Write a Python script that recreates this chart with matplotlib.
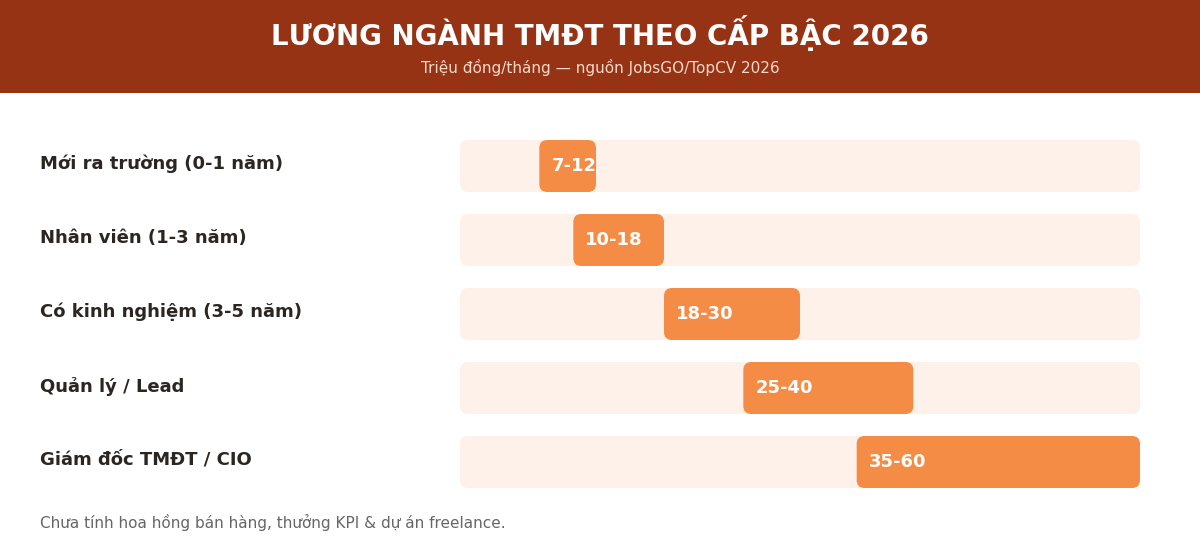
import matplotlib
matplotlib.use('Agg')
import matplotlib.pyplot as plt
from matplotlib.patches import FancyBboxPatch, Rectangle

levels = ['Mới ra trường (0-1 năm)', 'Nhân viên (1-3 năm)', 'Có kinh nghiệm (3-5 năm)',
          'Quản lý / Lead', 'Giám đốc TMĐT / CIO']
low = [7, 10, 18, 25, 35]
high = [12, 18, 30, 40, 60]
scale_max = 60

W, H = 1200, 560
fig = plt.figure(figsize=(12, 5.6), dpi=100, facecolor='white')

# header band
fig.patches.append(Rectangle((0, 1 - 93 / H), 1, 93 / H, transform=fig.transFigure,
                             facecolor='#963315', edgecolor='none', zorder=0))
fig.text(0.5, 1 - 33 / H, 'LƯƠNG NGÀNH TMĐT THEO CẤP BẬC 2026', ha='center', va='center',
         color='white', fontsize=20, fontweight='bold')
fig.text(0.5, 1 - 68 / H, 'Triệu đồng/tháng — nguồn JobsGO/TopCV 2026', ha='center', va='center',
         color='#F7D9C8', fontsize=11)

# bar area: x 460..1140 px, rows centred at 166 + 74*i
ax = fig.add_axes([460 / W, 1 - 500 / H, 680 / W, 370 / H])
ax.set_xlim(0, scale_max)
ax.set_ylim((500 - 166) / 74, (130 - 166) / 74)
ax.axis('off')

bh = 52 / 74
px_x = scale_max / 680
aspect = (1 / 74) / px_x
rad = 8 * px_x

for i, (lab, lo, hi) in enumerate(zip(levels, low, high)):
    ax.add_patch(FancyBboxPatch((0, i - bh / 2), scale_max, bh,
                                boxstyle=f'round,pad=0,rounding_size={rad}',
                                mutation_aspect=aspect, facecolor='#FEF1E9', edgecolor='none'))
    ax.add_patch(FancyBboxPatch((lo, i - bh / 2), hi - lo, bh,
                                boxstyle=f'round,pad=0,rounding_size={rad}',
                                mutation_aspect=aspect, facecolor='#F58C45', edgecolor='none'))
    ax.text(lo + 12 * px_x, i, f'{lo}-{hi}', ha='left', va='center', color='white',
            fontsize=13, fontweight='bold')
    fig.text(40 / W, 1 - (164 + 74 * i) / H, lab, ha='left', va='center', color='#2b2622',
             fontsize=13, fontweight='bold')

fig.text(40 / W, 1 - 522 / H, 'Chưa tính hoa hồng bán hàng, thưởng KPI & dự án freelance.',
         ha='left', va='center', color='#666666', fontsize=11)

fig.savefig('out.png', dpi=100, facecolor='white')
